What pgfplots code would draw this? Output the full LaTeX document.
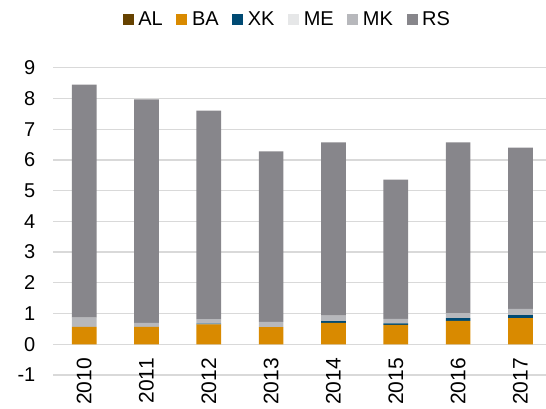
\documentclass[border=0pt]{standalone}
\usepackage{fontspec}
\setmainfont{Liberation Sans}
\usepackage{pgfplots}
\pgfplotsset{compat=1.18}
\definecolor{cAL}{HTML}{664200}
\definecolor{cBA}{HTML}{D98A00}
\definecolor{cXK}{HTML}{004A73}
\definecolor{cME}{HTML}{E6E7E8}
\definecolor{cMK}{HTML}{B7B8BC}
\definecolor{cRS}{HTML}{87868B}
\definecolor{cGrid}{HTML}{D9D9D9}
\begin{document}
\begin{tikzpicture}
\begin{axis}[
  scale only axis,
  width=493pt, height=307.3pt,
  xmin=-0.5, xmax=7.41,
  ymin=-1, ymax=9,
  ytick={-1,0,...,9},
  xtick={0,...,7},
  xticklabels={2010,2011,2012,2013,2014,2015,2016,2017},
  ybar stacked,
  bar width=24.7pt,
  axis line style={draw=none},
  major tick length=0pt,
  ymajorgrids,
  grid style={cGrid, line width=1.3pt},
  /pgf/number format/assume math mode=true,
  xticklabel style={rotate=90, anchor=east, inner sep=0pt, font=\fontsize{21}{21}\selectfont},
  xticklabel shift=-17pt,
  yticklabel style={anchor=east, inner sep=0pt, font=\fontsize{20}{20}\selectfont},
  yticklabel shift=17.5pt,
  legend columns=6,
  legend image code/.code={\fill[#1] (0pt,-5.5pt) rectangle (11pt,5.5pt);},
  legend style={draw=none, at={(0.478,1)}, anchor=center, yshift=48pt,
    font=\fontsize{20}{20}\selectfont, inner sep=0pt,
    nodes={inner ysep=2.3pt, inner xsep=4.6pt},
    /tikz/every even column/.append style={column sep=9pt}},
]
\addplot[fill=cAL, draw=none] coordinates {(0,0) (1,0) (2,0) (3,0) (4,0) (5,0) (6,0) (7,0)};
\addplot[fill=cBA, draw=none] coordinates {(0,0.57) (1,0.57) (2,0.65) (3,0.56) (4,0.70) (5,0.63) (6,0.76) (7,0.85)};
\addplot[fill=cXK, draw=none] coordinates {(0,0) (1,0) (2,0.02) (3,0) (4,0.05) (5,0.05) (6,0.09) (7,0.10)};
\addplot[fill=cME, draw=none] coordinates {(0,0) (1,0) (2,0) (3,0) (4,0) (5,0) (6,0) (7,0)};
\addplot[fill=cMK, draw=none] coordinates {(0,0.30) (1,0.13) (2,0.15) (3,0.17) (4,0.18) (5,0.15) (6,0.16) (7,0.20)};
\addplot[fill=cRS, draw=none] coordinates {(0,7.58) (1,7.27) (2,6.78) (3,5.55) (4,5.64) (5,4.53) (6,5.56) (7,5.25)};
\legend{AL,BA,XK,ME,MK,RS}
\end{axis}
\pgfresetboundingbox
\path (-53pt,-34pt) rectangle (493pt,375pt);
\end{tikzpicture}
\end{document}
